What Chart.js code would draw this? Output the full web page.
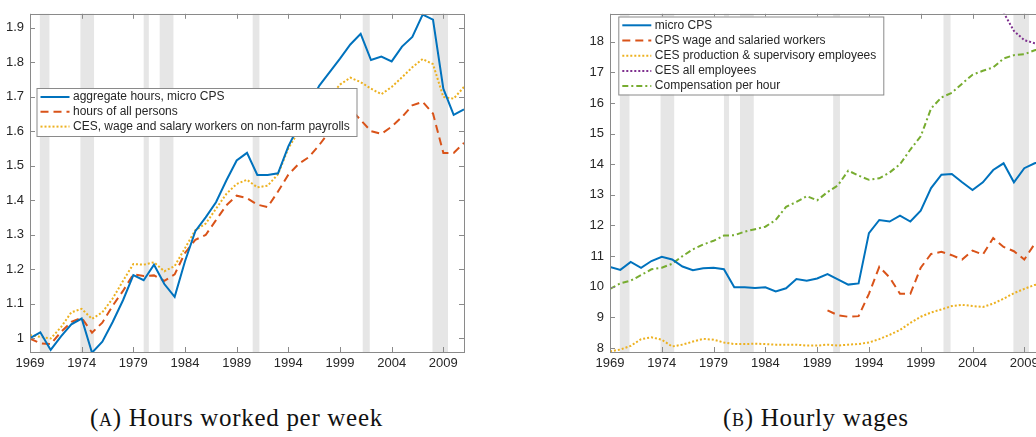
<!DOCTYPE html>
<html>
<head>
<meta charset="utf-8">
<script src="https://cdn.jsdelivr.net/npm/chart.js@4/dist/chart.umd.min.js"></script>
<style>
  html, body { margin: 0; padding: 0; background: #fff; }
  body { width: 1036px; height: 437px; overflow: hidden; position: relative; }
  .panel { position: absolute; top: 0; }
  #hoursBox { left: 0; width: 480px; height: 380px; }
  #wagesBox { left: 570px; width: 490px; height: 380px; }
  .caption {
    position: absolute; top: 404px;
    font-family: "Liberation Serif", "DejaVu Serif", serif;
    font-size: 25px; letter-spacing: 0.7px; color: #111; white-space: nowrap;
  }
  .sc { font-variant: small-caps; }
</style>
</head>
<body>
<div class="panel" id="hoursBox"><canvas id="hoursChart"></canvas></div>
<div class="panel" id="wagesBox"><canvas id="wagesChart"></canvas></div>
<div class="caption" style="left:90px">(<span class="sc">a</span>) Hours worked per week</div>
<div class="caption" style="left:723px">(<span class="sc">b</span>) Hourly wages</div>

<script>
// years shown on both panels
const years = [];
for (let y = 1969; y <= 2011; y++) years.push(y);

const yearTicks = [1969, 1974, 1979, 1984, 1989, 1994, 1999, 2004, 2009];
const yearTickLabels = ['1969', '1974', '1979', '1984', '1989', '1994', '1999', '2004', '2009'];

// NBER recessions (start, end) in fractional years
const recessions = [
  [1969.95, 1970.88], [1973.88, 1975.2], [1980.0, 1980.5],
  [1981.55, 1982.88], [1990.55, 1991.2], [2001.2, 2001.88], [2007.95, 2009.45]
];

// --- panel A: hours, index 1969 = 1 ---
const hoursTicks = [1, 1.1, 1.2, 1.3, 1.4, 1.5, 1.6, 1.7, 1.8, 1.9];
const hoursTickLabels = ['1', '1.1', '1.2', '1.3', '1.4', '1.5', '1.6', '1.7', '1.8', '1.9'];

const hoursMicroCPS = [
  1.0, 1.017, 0.966, 1.005, 1.04, 1.057, 0.958, 0.99, 1.047, 1.11,
  1.183, 1.168, 1.213, 1.157, 1.12, 1.223, 1.31, 1.35, 1.394, 1.457,
  1.515, 1.537, 1.473, 1.473, 1.478, 1.556, 1.615, 1.675, 1.732, 1.771,
  1.81, 1.851, 1.882, 1.806, 1.816, 1.802, 1.845, 1.873, 1.938, 1.923,
  1.723, 1.647, 1.663
];
const hoursAllPersons = [
  0.999, 0.985, 0.983, 1.018, 1.047, 1.059, 1.016, 1.045, 1.094, 1.137,
  1.185, 1.18, 1.182, 1.166, 1.185, 1.247, 1.285, 1.299, 1.342, 1.385,
  1.413, 1.406, 1.387, 1.38, 1.425, 1.474, 1.505, 1.525, 1.56, 1.6,
  1.64, 1.665, 1.632, 1.6, 1.592, 1.613, 1.641, 1.675, 1.685, 1.651,
  1.537, 1.537, 1.566
];
const hoursCES = [
  1.009, 1.004, 0.999, 1.032, 1.075, 1.085, 1.056, 1.075, 1.115, 1.166,
  1.215, 1.213, 1.22, 1.194, 1.209, 1.261, 1.313, 1.332, 1.375, 1.418,
  1.447, 1.459, 1.437, 1.442, 1.475, 1.55, 1.6, 1.64, 1.67, 1.7,
  1.735, 1.755, 1.742, 1.723, 1.707, 1.728, 1.756, 1.785, 1.809, 1.794,
  1.699, 1.694, 1.728
];

// --- panel B: hourly wages ---
const wageTicks = [8, 9, 10, 11, 12, 13, 14, 15, 16, 17, 18];
const wageTickLabels = ['8', '9', '10', '11', '12', '13', '14', '15', '16', '17', '18'];

const wageMicroCPS = [
  10.65, 10.55, 10.81, 10.62, 10.84, 10.98, 10.89, 10.66, 10.54, 10.6,
  10.62, 10.57, 9.98, 9.98, 9.96, 9.98, 9.85, 9.95, 10.25, 10.2,
  10.27, 10.41, 10.24, 10.07, 10.11, 11.75, 12.18, 12.13, 12.32, 12.13,
  12.48, 13.22, 13.66, 13.68, 13.41, 13.16, 13.41, 13.81, 14.03, 13.41,
  13.87, 14.03, 14.1
];
const wageCPSWorkers = [
  null, null, null, null, null, null, null, null, null, null,
  null, null, null, null, null, null, null, null, null, null,
  null, 9.23, 9.07, 9.02, 9.04, 9.77, 10.65, 10.3, 9.77, 9.77,
  10.62, 11.07, 11.14, 11.03, 10.89, 11.18, 11.05, 11.59, 11.3, 11.16,
  10.89, 11.4, 11.3
];
const wageCESProd = [
  7.89, 7.95, 8.07, 8.29, 8.35, 8.27, 8.05, 8.11, 8.21, 8.3,
  8.27, 8.18, 8.13, 8.13, 8.14, 8.13, 8.11, 8.11, 8.11, 8.08,
  8.08, 8.11, 8.08, 8.11, 8.13, 8.18, 8.29, 8.43, 8.59, 8.82,
  9.02, 9.16, 9.26, 9.37, 9.41, 9.37, 9.34, 9.45, 9.61, 9.79,
  9.93, 10.06, 10.12
];
const wageCESAll = [
  null, null, null, null, null, null, null, null, null, null,
  null, null, null, null, null, null, null, null, null, null,
  null, null, null, null, null, null, null, null, null, null,
  null, null, null, null, null, null, null, null, 18.95, 18.35,
  18.05, 17.95, 17.9
];
const compPerHour = [
  9.93, 10.11, 10.2, 10.38, 10.57, 10.62, 10.75, 11.0, 11.22, 11.38,
  11.5, 11.67, 11.68, 11.8, 11.88, 11.96, 12.18, 12.61, 12.77, 12.96,
  12.82, 13.09, 13.31, 13.79, 13.63, 13.49, 13.54, 13.73, 14.0, 14.48,
  14.91, 15.82, 16.18, 16.33, 16.63, 16.92, 17.05, 17.16, 17.45, 17.56,
  17.59, 17.72, 17.8
];

const BLUE = '#0072BD', RED = '#D95319', YELLOW = '#EDB120', PURPLE = '#7E2F8E', GREEN = '#77AC30';
const FONT = '"Liberation Sans", Arial, Helvetica, sans-serif';
const AXIS = '#8a8a8a';
const TEXT = '#262626';

const pts = vals => years.map((yr, i) => ({ x: yr, y: vals[i] }));

function series(label, vals, color, dash) {
  return {
    label: label,
    data: pts(vals),
    borderColor: color,
    borderWidth: 2,
    borderDash: dash,
    borderCapStyle: 'butt',
    pointRadius: 0,
    tension: 0,
    spanGaps: false,
    fill: false
  };
}

// grey bands for recessions, drawn under the lines
const recessionBands = {
  id: 'recessionBands',
  beforeDatasetsDraw(chart) {
    const { ctx, chartArea: a, scales: { x } } = chart;
    ctx.save();
    ctx.fillStyle = '#e6e6e6';
    recessions.forEach(([s, e]) => {
      const x0 = Math.max(x.getPixelForValue(s), a.left);
      const x1 = Math.min(x.getPixelForValue(e), a.right);
      if (x1 > x0) ctx.fillRect(x0, a.top, x1 - x0, a.bottom - a.top);
    });
    ctx.restore();
  }
};

// box around the plot with inward ticks on all four sides
const axesBox = {
  id: 'axesBox',
  afterDatasetsDraw(chart) {
    const { ctx, chartArea: a, scales: { x, y } } = chart;
    const len = 5;
    ctx.save();
    ctx.strokeStyle = AXIS;
    ctx.lineWidth = 1;
    ctx.beginPath();
    x.ticks.forEach(t => {
      const px = Math.round(x.getPixelForValue(t.value)) + 0.5;
      ctx.moveTo(px, a.bottom); ctx.lineTo(px, a.bottom - len);
      ctx.moveTo(px, a.top); ctx.lineTo(px, a.top + len);
    });
    y.ticks.forEach(t => {
      const py = Math.round(y.getPixelForValue(t.value)) + 0.5;
      ctx.moveTo(a.left, py); ctx.lineTo(a.left + len, py);
      ctx.moveTo(a.right, py); ctx.lineTo(a.right - len, py);
    });
    ctx.stroke();
    ctx.strokeRect(Math.round(a.left) + 0.5, Math.round(a.top) + 0.5,
      Math.round(a.right - a.left), Math.round(a.bottom - a.top));
    ctx.restore();
  }
};

// legend box inside the axes, MATLAB style
const boxLegend = {
  id: 'boxLegend',
  afterDraw(chart, args, opts) {
    const { ctx } = chart;
    const sets = chart.data.datasets;
    ctx.save();
    ctx.fillStyle = '#fff';
    ctx.fillRect(opts.x, opts.y, opts.w, opts.h);
    ctx.strokeStyle = '#8a8a8a';
    ctx.lineWidth = 1;
    ctx.strokeRect(opts.x + 0.5, opts.y + 0.5, opts.w, opts.h);
    ctx.font = opts.fontSize + 'px ' + FONT;
    ctx.textBaseline = 'middle';
    sets.forEach((ds, i) => {
      const cy = opts.y + opts.first + i * opts.row;
      ctx.beginPath();
      ctx.setLineDash(ds.borderDash || []);
      ctx.strokeStyle = ds.borderColor;
      ctx.lineWidth = 2;
      ctx.moveTo(opts.x + 4, cy);
      ctx.lineTo(opts.x + 33, cy);
      ctx.stroke();
      ctx.setLineDash([]);
      ctx.fillStyle = TEXT;
      ctx.fillText(ds.label, opts.x + 36.5, cy);
    });
    ctx.restore();
  }
};

function scaleOpts(ticks, labels, min, max, width, height, pad) {
  return {
    type: 'linear',
    min: min,
    max: max,
    grid: { display: false, drawTicks: false },
    border: { display: false },
    afterBuildTicks: s => { s.ticks = ticks.map(v => ({ value: v })); },
    afterFit: s => {
      if (width !== null) s.width = width;
      if (height !== null) s.height = height;
    },
    ticks: {
      autoSkip: false,
      maxRotation: 0,
      padding: pad,
      color: TEXT,
      font: { family: FONT, size: 13 },
      callback: (v, i) => labels[i]
    }
  };
}

function makeChart(id, datasets, yTicks, yLabels, yMin, yMax, yWidth, rightPad, legend) {
  return new Chart(document.getElementById(id), {
    type: 'line',
    data: { datasets: datasets },
    options: {
      responsive: true,
      maintainAspectRatio: false,
      animation: false,
      layout: { padding: { top: 8, right: rightPad, left: 0, bottom: 0 } },
      plugins: {
        legend: { display: false },
        tooltip: { enabled: false },
        boxLegend: legend
      },
      scales: {
        x: scaleOpts(yearTicks, yearTickLabels, 1969, 2011, null, 28, 4),
        y: scaleOpts(yTicks, yLabels, yMin, yMax, yWidth, null, 6)
      }
    },
    plugins: [recessionBands, axesBox, boxLegend]
  });
}

makeChart('hoursChart', [
  series('aggregate hours, micro CPS', hoursMicroCPS, BLUE, []),
  series('hours of all persons', hoursAllPersons, RED, [8, 5]),
  series('CES, wage and salary workers on non-farm payrolls', hoursCES, YELLOW, [2, 2])
], hoursTicks, hoursTickLabels, 0.96, 1.94, 30, 16,
  { x: 36.5, y: 88, w: 320, h: 48, first: 9, row: 14.8, fontSize: 12 });

makeChart('wagesChart', [
  series('micro CPS', wageMicroCPS, BLUE, []),
  series('CPS wage and salaried workers', wageCPSWorkers, RED, [8, 5]),
  series('CES production & supervisory employees', wageCESProd, YELLOW, [2, 2]),
  series('CES all employees', wageCESAll, PURPLE, [2, 2]),
  series('Compensation per hour', compPerHour, GREEN, [6, 3, 2, 3])
], wageTicks, wageTickLabels, 7.87, 18.91, 40, 15,
  { x: 48.3, y: 16.5, w: 265, h: 78, first: 8.8, row: 15.2, fontSize: 12 });
</script>
</body>
</html>
